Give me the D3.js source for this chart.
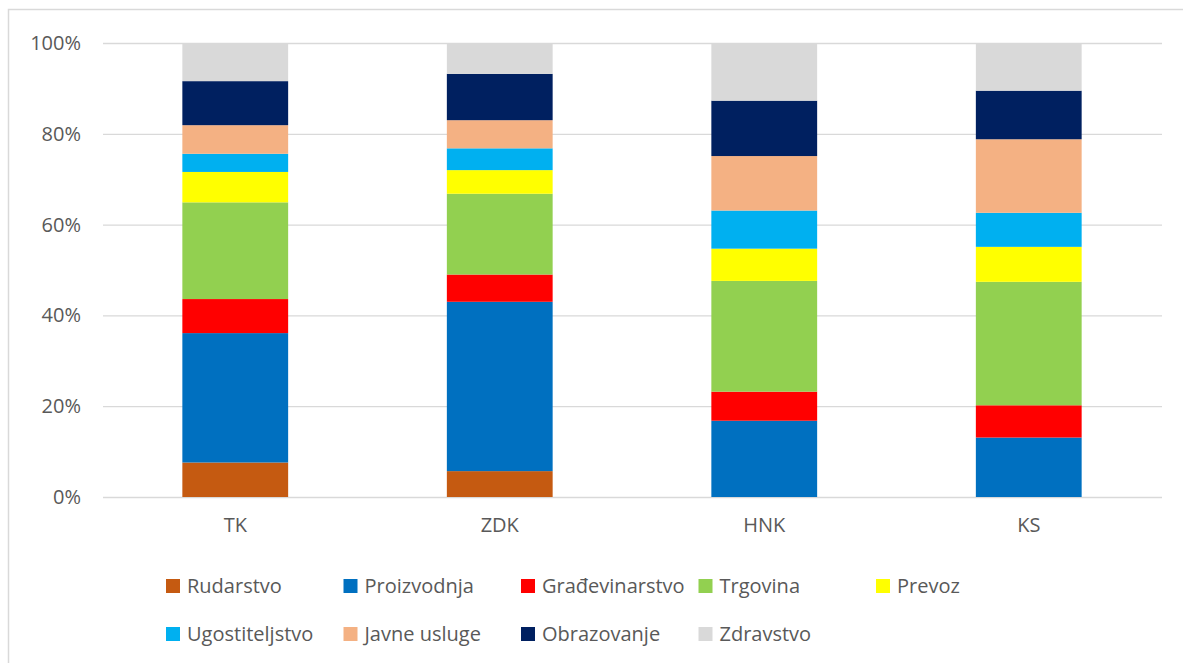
<!DOCTYPE html>
<meta charset="utf-8">
<style>
    body { margin: 0; background: #ffffff; }
    text { font-family: "Open Sans", sans-serif; fill: #595959; }
    .grid line { stroke: #d9d9d9; stroke-width: 1.3; }
    .domain { display: none; }
</style>
<body>
<script src="https://cdn.jsdelivr.net/npm/d3@7"></script>
<script>

    var regions = ["TK", "ZDK", "HNK", "KS"];
    var sectors = ["Rudarstvo", "Proizvodnja", "Građevinarstvo", "Trgovina", "Prevoz",
                   "Ugostiteljstvo", "Javne usluge", "Obrazovanje", "Zdravstvo"];
    var colors = ["#C55A11", "#0070C0", "#FF0000", "#92D050", "#FFFF00",
                  "#00B0F0", "#F4B183", "#002060", "#D9D9D9"];

    // shares in % per region, same order as sectors
    var tk  = [7.6, 28.5, 7.5, 21.3, 6.7, 4.0, 6.3, 9.7, 8.4];
    var zdk = [5.7, 37.3, 6.0, 17.8, 5.2, 4.8, 6.2, 10.2, 6.8];
    var hnk = [0, 16.8, 6.4, 24.4, 7.1, 8.4, 12.0, 12.2, 12.7];
    var ks  = [0, 13.1, 7.1, 27.2, 7.7, 7.5, 16.2, 10.7, 10.5];
    var yTicks = [0, 0.2, 0.4, 0.6, 0.8, 1];

    var values = [tk, zdk, hnk, ks];
    var rows = regions.map(function(r, i) {
        var o = {region: r};
        sectors.forEach(function(s, j) { o[s] = values[i][j]; });
        return o;
    });

    var width = 1183, height = 663;

    var svg = d3.select("body").append("svg")
            .attr("width", width)
            .attr("height", height);

    // outer chart frame (runs off the right and bottom edges)
    svg.append("rect")
            .attr("x", 8.5).attr("y", 9.5)
            .attr("width", 1300).attr("height", 800)
            .attr("fill", "none")
            .attr("stroke", "#d9d9d9")
            .attr("stroke-width", 1.5);

    var x = d3.scaleBand()
            .domain(regions)
            .range([103, 1161])
            .paddingInner(0.6)
            .paddingOuter(0.3);

    var y = d3.scaleLinear()
            .domain([0, 1])
            .range([497, 43]);

    svg.append("g")
            .attr("class", "grid")
            .attr("transform", "translate(103,0)")
            .call(d3.axisLeft(y).tickValues(yTicks).tickSize(-1059).tickFormat(""))
            .call(function(g) { g.select(".domain").remove(); });

    var yAxis = svg.append("g")
            .attr("transform", "translate(81,0)")
            .call(d3.axisLeft(y).tickValues(yTicks).tickSize(0).tickPadding(0).tickFormat(d3.format(".0%")));
    yAxis.selectAll("text").attr("font-size", 20).attr("fill", "#595959")
            .style("font-family", "'Open Sans', sans-serif");

    var stack = d3.stack().keys(sectors).offset(d3.stackOffsetExpand);
    var series = stack(rows);

    svg.selectAll("g.series").data(series).enter()
            .append("g")
            .attr("class", "series")
            .attr("fill", function(d, i) { return colors[i]; })
            .selectAll("rect").data(function(d) { return d; }).enter()
            .append("rect")
            .attr("x", function(d) { return x(d.data.region); })
            .attr("width", x.bandwidth())
            .attr("y", function(d) { return y(d[1]); })
            .attr("height", function(d) { return y(d[0]) - y(d[1]); });

    var xAxis = svg.append("g")
            .attr("transform", "translate(0,515)")
            .call(d3.axisBottom(x).tickSize(0).tickPadding(0));
    xAxis.selectAll("text").attr("font-size", 20).attr("fill", "#595959")
            .attr("dy", "0.85em")
            .style("font-family", "'Open Sans', sans-serif");

    // legend: 5 columns, 2 rows
    var legend = svg.selectAll("g.legend").data(sectors).enter()
            .append("g")
            .attr("class", "legend")
            .attr("transform", function(d, i) {
                return "translate(" + (166 + (i % 5) * 177.5) + "," + (586 + Math.floor(i / 5) * 48) + ")";
            });

    legend.append("rect")
            .attr("x", 0).attr("y", -7)
            .attr("width", 14).attr("height", 14)
            .attr("fill", function(d, i) { return colors[i]; });

    legend.append("text")
            .attr("x", 21)
            .attr("dy", "0.36em")
            .attr("font-size", 20)
            .text(function(d) { return d; });

</script>
